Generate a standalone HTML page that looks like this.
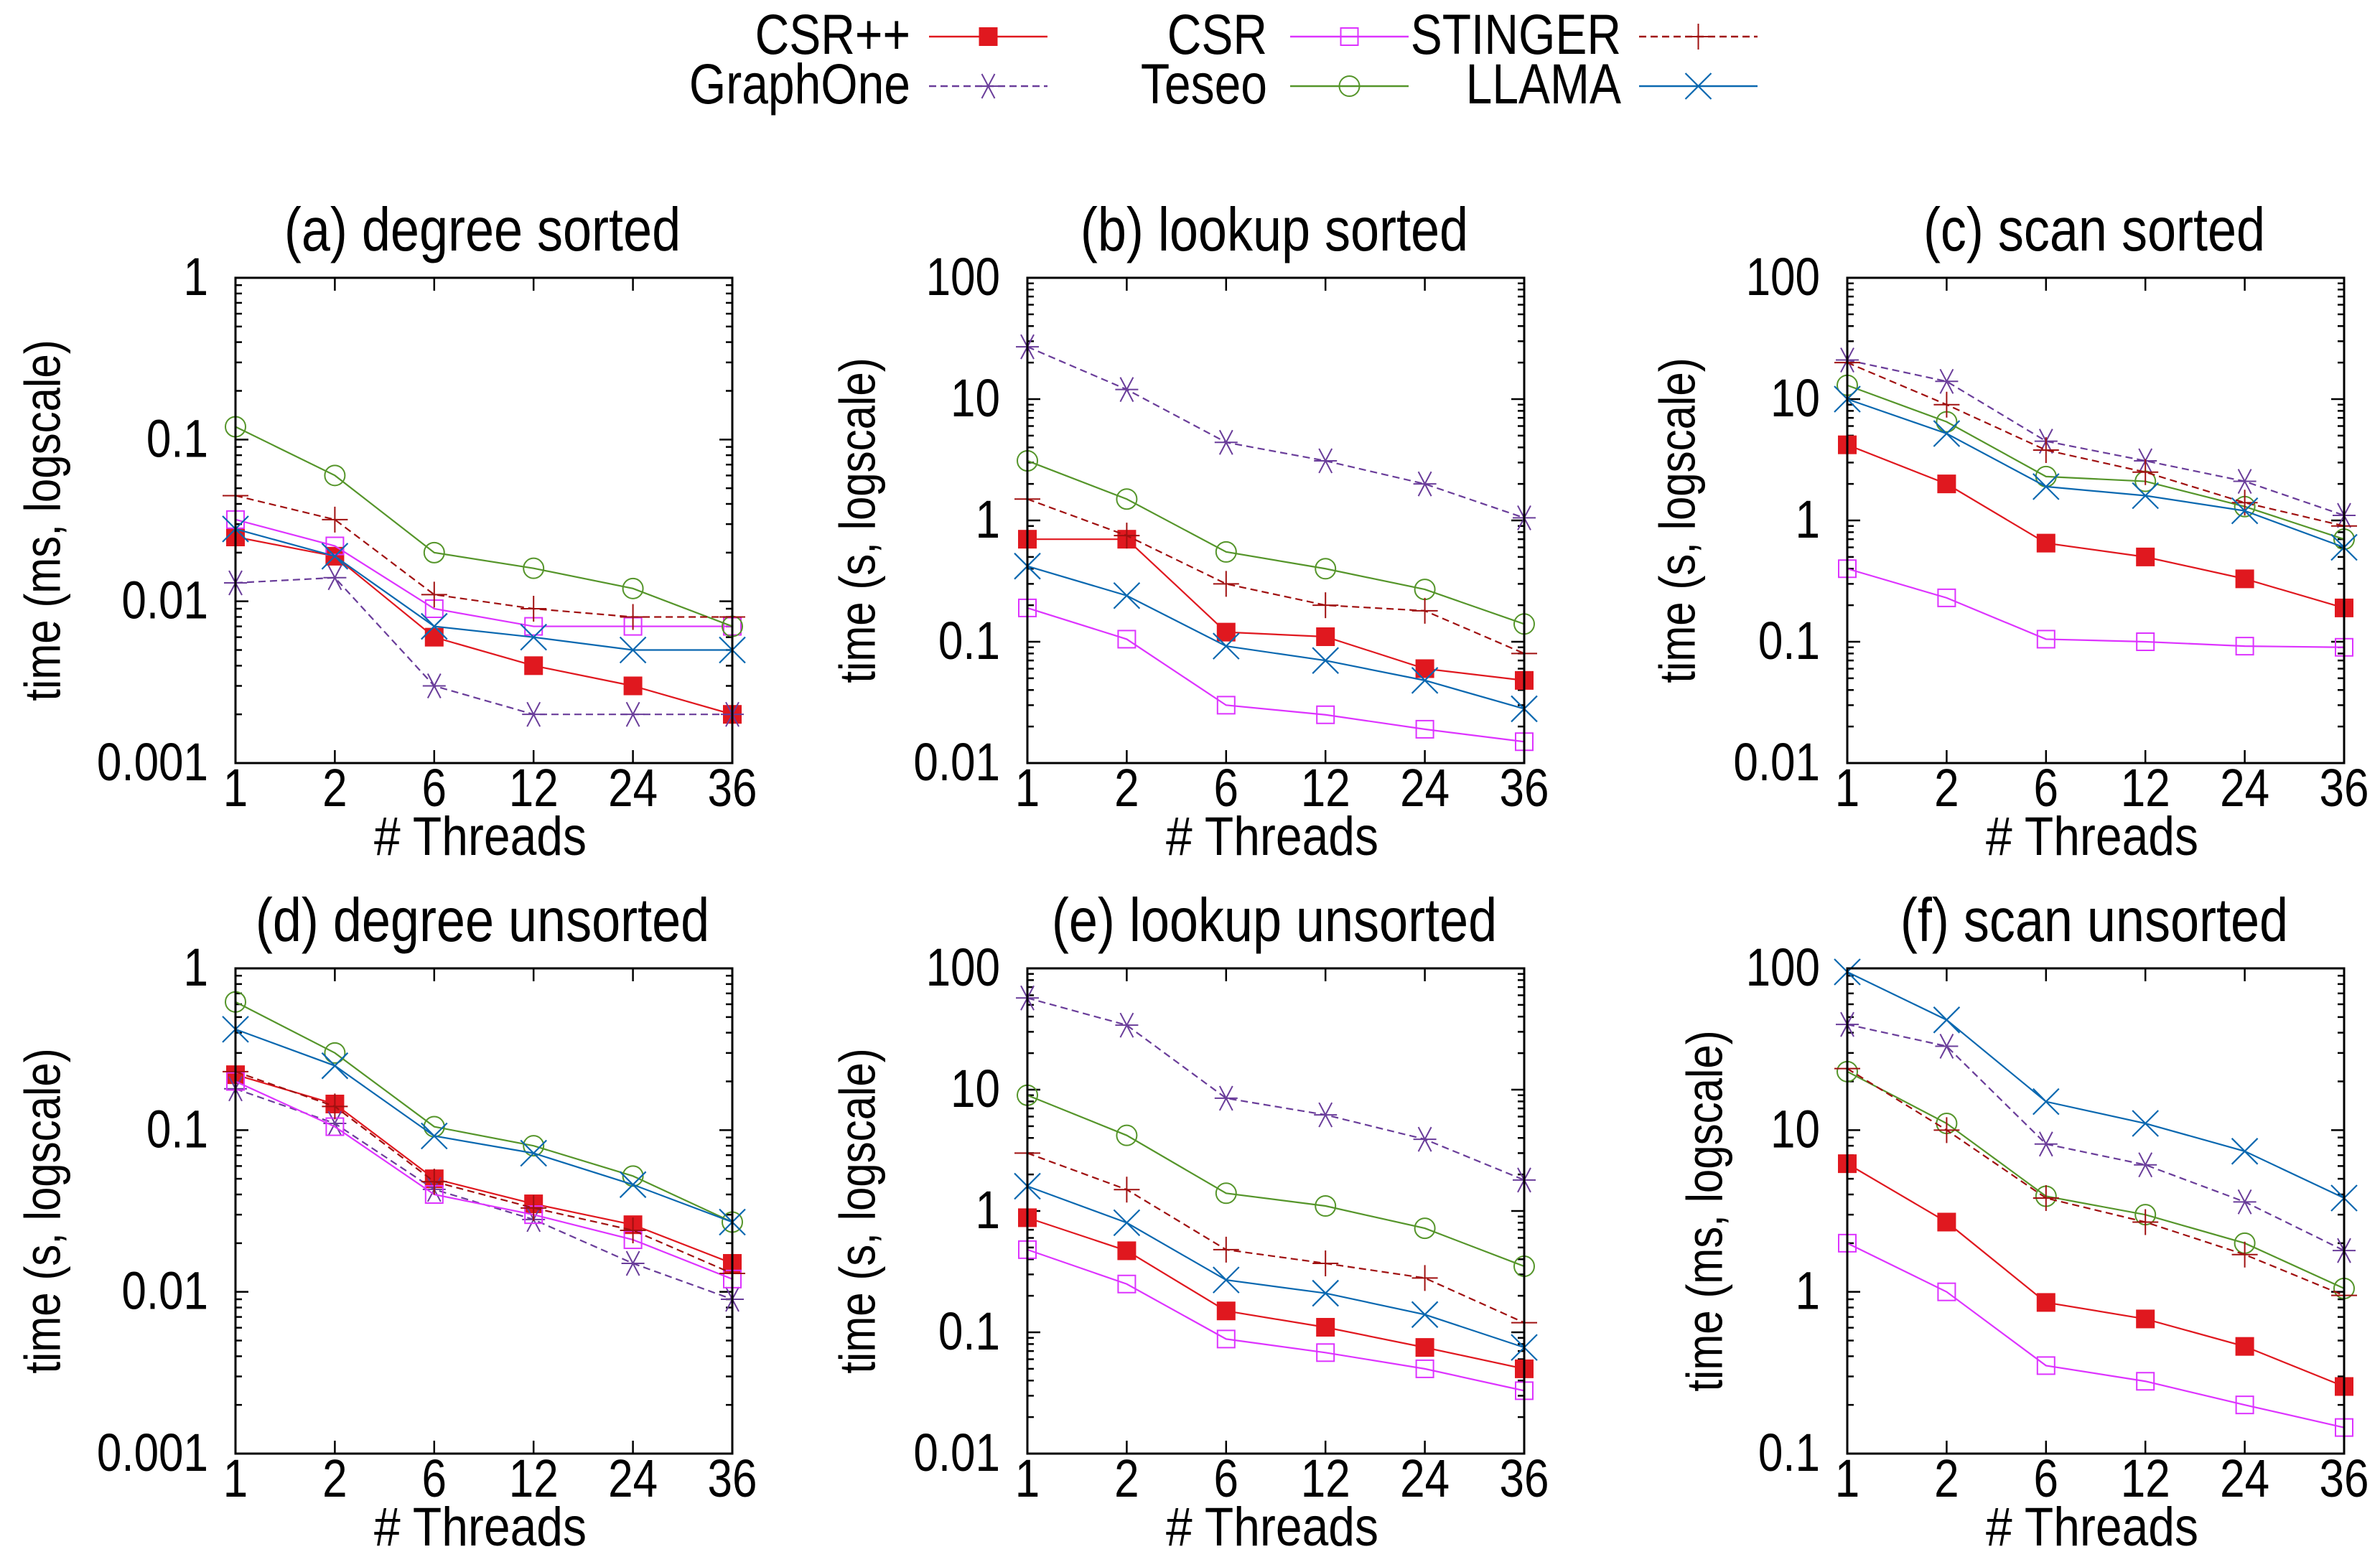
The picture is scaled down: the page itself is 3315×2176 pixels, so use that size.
<!DOCTYPE html>
<html><head><meta charset="utf-8"><style>
html,body{margin:0;padding:0;background:#fff;}
svg{display:block;font-family:"Liberation Sans",sans-serif;}
</style></head><body>
<svg id="chart" width="3315" height="2176" viewBox="0 0 3315 2176" xmlns="http://www.w3.org/2000/svg">
<g id="legend"></g>
<g id="panels"></g>
</svg>
<script>
const categories = ["1","2","6","12","24","36"];
const seriesNames = ["CSR++","GraphOne","CSR","Teseo","STINGER","LLAMA"];
const panelTitles = ["(a) degree sorted","(b) lookup sorted","(c) scan sorted","(d) degree unsorted","(e) lookup unsorted","(f) scan unsorted"];
const panelYLabels = ["time (ms, logscale)","time (s, logscale)","time (s, logscale)","time (s, logscale)","time (s, logscale)","time (ms, logscale)"];
const panelYMinExp = [-3,-2,-2,-3,-2,-1];
const panelYMaxExp = [0,2,2,0,2,2];

const dataA_CSRpp = [0.025,0.019,0.006,0.004,0.003,0.002];
const dataA_GraphOne = [0.013,0.014,0.003,0.002,0.002,0.002];
const dataA_CSR = [0.032,0.022,0.009,0.007,0.007,0.007];
const dataA_Teseo = [0.12,0.06,0.02,0.016,0.012,0.007];
const dataA_STINGER = [0.045,0.032,0.011,0.009,0.008,0.008];
const dataA_LLAMA = [0.028,0.019,0.007,0.006,0.005,0.005];

const dataB_CSRpp = [0.7,0.7,0.12,0.11,0.06,0.048];
const dataB_GraphOne = [27,12,4.4,3.1,2.0,1.05];
const dataB_CSR = [0.19,0.105,0.03,0.025,0.019,0.015];
const dataB_Teseo = [3.1,1.5,0.55,0.4,0.27,0.14];
const dataB_STINGER = [1.5,0.75,0.3,0.2,0.18,0.08];
const dataB_LLAMA = [0.42,0.24,0.092,0.07,0.048,0.028];

const dataC_CSRpp = [4.2,2.0,0.65,0.5,0.33,0.19];
const dataC_GraphOne = [21,14,4.5,3.1,2.1,1.1];
const dataC_CSR = [0.4,0.23,0.105,0.1,0.092,0.09];
const dataC_Teseo = [13,6.5,2.3,2.1,1.3,0.7];
const dataC_STINGER = [20,9,3.8,2.5,1.4,0.9];
const dataC_LLAMA = [10,5.2,1.9,1.6,1.2,0.6];

const dataD_CSRpp = [0.22,0.145,0.05,0.035,0.026,0.015];
const dataD_GraphOne = [0.18,0.11,0.043,0.028,0.015,0.009];
const dataD_CSR = [0.2,0.105,0.04,0.03,0.021,0.012];
const dataD_Teseo = [0.62,0.3,0.105,0.08,0.052,0.027];
const dataD_STINGER = [0.23,0.14,0.048,0.033,0.024,0.013];
const dataD_LLAMA = [0.42,0.25,0.092,0.072,0.046,0.027];

const dataE_CSRpp = [0.88,0.47,0.15,0.11,0.075,0.05];
const dataE_GraphOne = [57,34,8.5,6.2,3.9,1.8];
const dataE_CSR = [0.48,0.25,0.088,0.068,0.05,0.033];
const dataE_Teseo = [9,4.2,1.4,1.1,0.72,0.35];
const dataE_STINGER = [3,1.5,0.48,0.37,0.28,0.12];
const dataE_LLAMA = [1.6,0.8,0.27,0.21,0.14,0.075];

const dataF_CSRpp = [6.2,2.7,0.86,0.68,0.46,0.26];
const dataF_GraphOne = [45,33,8.2,6.1,3.6,1.8];
const dataF_CSR = [2.0,1.0,0.35,0.28,0.2,0.145];
const dataF_Teseo = [23,11,3.9,3.0,2.0,1.05];
const dataF_STINGER = [24,10,3.8,2.7,1.7,0.95];
const dataF_LLAMA = [95,48,15,11,7.4,3.8];

const panelData = [
 [dataA_CSRpp,dataA_GraphOne,dataA_CSR,dataA_Teseo,dataA_STINGER,dataA_LLAMA],
 [dataB_CSRpp,dataB_GraphOne,dataB_CSR,dataB_Teseo,dataB_STINGER,dataB_LLAMA],
 [dataC_CSRpp,dataC_GraphOne,dataC_CSR,dataC_Teseo,dataC_STINGER,dataC_LLAMA],
 [dataD_CSRpp,dataD_GraphOne,dataD_CSR,dataD_Teseo,dataD_STINGER,dataD_LLAMA],
 [dataE_CSRpp,dataE_GraphOne,dataE_CSR,dataE_Teseo,dataE_STINGER,dataE_LLAMA],
 [dataF_CSRpp,dataF_GraphOne,dataF_CSR,dataF_Teseo,dataF_STINGER,dataF_LLAMA]
];

const styles = {
 "CSR++":{c:"#e0181f",dash:null,m:"fsq"},
 "GraphOne":{c:"#6a3d9a",dash:"10,6",m:"star"},
 "CSR":{c:"#dd33ff",dash:null,m:"osq"},
 "Teseo":{c:"#55952a",dash:null,m:"circ"},
 "STINGER":{c:"#a01010",dash:"10,6",m:"plus"},
 "LLAMA":{c:"#0a68b0",dash:null,m:"x"}
};
const NS="http://www.w3.org/2000/svg";
function mk(tag,attrs,parent){const e=document.createElementNS(NS,tag);for(const k in attrs)e.setAttribute(k,attrs[k]);parent.appendChild(e);return e;}

function marker(g,type,x,y,c){
 let el;
 if(type==="fsq"){el=mk("rect",{x:x-13,y:y-13,width:26,height:26,fill:c},g);}
 else if(type==="osq"){el=mk("rect",{x:x-12,y:y-12,width:24,height:24,fill:"none",stroke:c,"stroke-width":2},g);}
 else if(type==="circ"){el=mk("circle",{cx:x,cy:y,r:14,fill:"none",stroke:c,"stroke-width":2},g);}
 else if(type==="plus"){el=mk("path",{d:`M${x-18} ${y}H${x+18}M${x} ${y-18}V${y+18}`,stroke:c,"stroke-width":2,fill:"none"},g);}
 else if(type==="x"){el=mk("path",{d:`M${x-18} ${y-18}L${x+18} ${y+18}M${x-18} ${y+18}L${x+18} ${y-18}`,stroke:c,"stroke-width":2.2,fill:"none"},g);}
 else {el=mk("path",{d:`M${x-16} ${y}H${x+16}M${x-9} ${y-17}L${x+9} ${y+17}M${x-9} ${y+17}L${x+9} ${y-17}`,stroke:c,"stroke-width":2,fill:"none"},g);}
 return el;
}
// tall text helper: scales vertically to mimic taller gnuplot glyphs
function ttext(parent,x,y,str,size,anchor,sy){
 const g=mk("g",{transform:`translate(${x} ${y}) scale(1 ${sy||1.18})`},parent);
 const t=mk("text",{x:0,y:0,"text-anchor":anchor,"font-size":size},g);t.textContent=str;
 return t;
}

// legend
const leg=document.getElementById("legend");
const legCols=[[1268,1294],[1765,1797],[2258,2283]];
const legOrder=[["CSR++","GraphOne"],["CSR","Teseo"],["STINGER","LLAMA"]];
const legRowY=[51,120];
legOrder.forEach((col,ci)=>col.forEach((name,ri)=>{
 const st=styles[name];const y=legRowY[ri];
 const g=mk("g",{},leg);
 
 
 ttext(g,legCols[ci][0],y+24,name,66,"end",1.2);
 const x0=legCols[ci][1],x1=x0+165;
 const ln=mk("line",{x1:x0,y1:y,x2:x1,y2:y,stroke:st.c,"stroke-width":2.5},g);
 if(st.dash)ln.setAttribute("stroke-dasharray",st.dash);
 marker(g,st.m,(x0+x1)/2,y,st.c);
}));

// panels
const panelsG=document.getElementById("panels");
const colLeft=[328,1431,2573], rowTop=[387,1349], W=692, H=676;
const yLabelX=[59,1194,2336,59,1194,2374];
for(let p=0;p<6;p++){
 const L=colLeft[p%3],T=rowTop[Math.floor(p/3)],R=L+W,B=T+H;
 const lo=panelYMinExp[p],hi=panelYMaxExp[p];
 const xs=i=>L+i*W/(categories.length-1);
 const ys=v=>B-(Math.log10(v)-lo)/(hi-lo)*H;
 const g=mk("g",{},panelsG);
 
 
 const tt=ttext(g,L+W/2-2,T-38,panelTitles[p],72,"middle",1.18);
 
 
 let d="";
 for(let e=lo;e<=hi;e++){
  const y=ys(Math.pow(10,e));
  d+=`M${L} ${y}h18M${R} ${y}h-18`;
  const tl=ttext(g,L-38,y+24,(e>=0?String(Math.pow(10,e)):Math.pow(10,e).toFixed(-e)),62,"end",1.2);
  
  
  if(e<hi)for(let m=2;m<=9;m++){const ym=ys(m*Math.pow(10,e));d+=`M${L} ${ym}h9M${R} ${ym}h-9`;}
 }
 categories.forEach((c,i)=>{
  const x=xs(i);
  if(i>0&&i<categories.length-1)d+=`M${x} ${B}v-18M${x} ${T}v18`;
  const tl=ttext(g,x,B+60,c,62,"middle",1.2);
  
  
 });
 mk("path",{d:d,stroke:"#000","stroke-width":2.5,fill:"none"},g);
 const xl=ttext(g,L+W/2-5,B+128,"# Threads",66,"middle",1.15);
 
 
 const yx=yLabelX[p],yy=T+H/2;
 const yg=mk("g",{transform:`translate(${yx} ${yy}) rotate(-90) scale(1 1.18)`},g);
 const yl=mk("text",{x:0,y:0,"text-anchor":"middle","font-size":60,"dominant-baseline":"central"},yg);yl.textContent=panelYLabels[p];
 
 
 seriesNames.forEach((name,si)=>{
  const st=styles[name];const vals=panelData[p][si];
  const sg=mk("g",{},g);
  
  
  const pts=vals.map((v,i)=>xs(i)+","+ys(v)).join(" ");
  const pl=mk("polyline",{points:pts,fill:"none",stroke:st.c,"stroke-width":2.2},sg);
  if(st.dash)pl.setAttribute("stroke-dasharray",st.dash);
  vals.forEach((v,i)=>{
   const m=marker(sg,st.m,xs(i),ys(v),st.c);
   
   
  });
 });
 const fr=mk("rect",{x:L,y:T,width:W,height:H,fill:"none",stroke:"#000","stroke-width":3},g);
 
 
}
</script>
</body></html>
